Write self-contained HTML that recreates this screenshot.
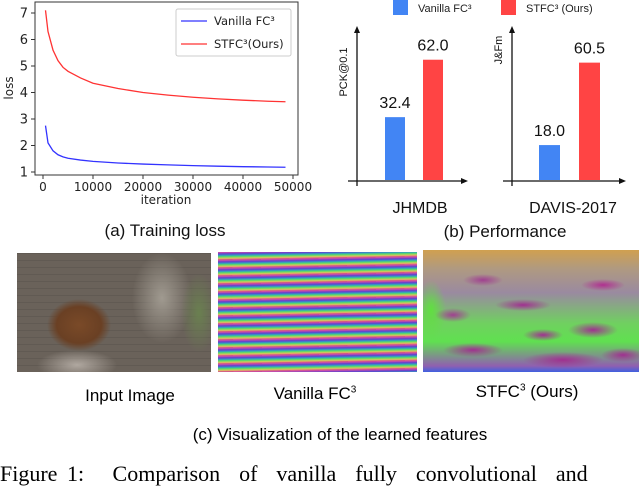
<!DOCTYPE html>
<html><head><meta charset="utf-8"><style>
body{margin:0;background:#fff;width:640px;height:473px;overflow:hidden;position:relative;font-family:"Liberation Sans",sans-serif}
.abs{position:absolute}
</style></head><body>
<svg class="abs" style="left:0;top:0" width="640" height="473">
<g id="loss"></g>
<g id="bars"></g>
</svg>

<div class="abs" style="left:17px;top:253px;width:194px;height:119px;background:
radial-gradient(ellipse 32px 26px at 62px 72px,#7a4a28 0,#6a4024 70%,transparent 100%),
radial-gradient(ellipse 18px 40px at 182px 60px,#6a8050 0,transparent 100%),
radial-gradient(ellipse 30px 45px at 145px 45px,#a09a90 0,transparent 100%),
radial-gradient(ellipse 40px 15px at 60px 112px,#b0a8a0 0,transparent 100%),
repeating-linear-gradient(0deg,#6a625a 0,#6a625a 6px,#58524c 7px),
linear-gradient(180deg,#6e665e 0,#5e5850 50%,#7a6c5c 80%,#a09080 100%);"></div>
<div class="abs" style="left:218px;top:252px;width:199px;height:120px;background:repeating-linear-gradient(179deg,#e050a0 0,#6040d0 2px,#30a0c0 3.5px,#60e060 5px,#e0c060 6.5px,#d04090 8px)"></div>
<div class="abs" style="left:423px;top:250px;width:216px;height:122px;background:
radial-gradient(ellipse 28px 6px at 100px 55px,#a03090 0,transparent 100%),
radial-gradient(ellipse 30px 7px at 50px 100px,#a03090 0,transparent 100%),
radial-gradient(ellipse 25px 8px at 170px 80px,#a03090 0,transparent 100%),
radial-gradient(ellipse 40px 8px at 140px 110px,#a03090 0,transparent 100%),
radial-gradient(ellipse 20px 6px at 60px 30px,#a04090 0,transparent 100%),
radial-gradient(ellipse 22px 6px at 180px 35px,#b03090 0,transparent 100%),
radial-gradient(ellipse 18px 7px at 30px 65px,#a04090 0,transparent 100%),
radial-gradient(ellipse 20px 6px at 120px 85px,#a03090 0,transparent 100%),
radial-gradient(ellipse 22px 7px at 200px 105px,#a03090 0,transparent 100%),
radial-gradient(ellipse 15px 30px at 8px 60px,#60e040 0,transparent 100%),
linear-gradient(180deg,#d0a050 0,#b09a80 15%,#9a8aa0 35%,#70d060 60%,#60e050 75%,#9060b0 95%,#4060e0 100%);"></div>

<div class="abs" style="left:40px;top:386px;width:180px;text-align:center;font-size:17px">Input Image</div>
<div class="abs" style="left:225px;top:384px;width:180px;text-align:center;font-size:17px">Vanilla FC<sup style="font-size:10px">3</sup></div>
<div class="abs" style="left:437px;top:382px;width:180px;text-align:center;font-size:17px">STFC<sup style="font-size:10px">3</sup> (Ours)</div>
<div class="abs" style="left:140px;top:425px;width:400px;text-align:center;font-size:17px">(c) Visualization of the learned features</div>
<div class="abs" style="left:0;top:461px;font-family:'Liberation Serif',serif;font-size:22px;white-space:nowrap;word-spacing:4px">Figure 1:&nbsp;&nbsp;&nbsp;Comparison&nbsp; of&nbsp; vanilla&nbsp; fully&nbsp; convolutional&nbsp; and</div>

<script>
const iters=[500,1000,2000,3000,4000,5000,7500,10000,15000,20000,25000,30000,35000,40000,45000,48500];
const redLoss=[7.1,6.3,5.6,5.2,4.95,4.8,4.55,4.35,4.15,4.0,3.9,3.82,3.76,3.71,3.67,3.65];
const blueLoss=[2.75,2.1,1.8,1.65,1.57,1.52,1.45,1.4,1.34,1.3,1.27,1.24,1.22,1.2,1.19,1.18];
const xTicks=[0,10000,20000,30000,40000,50000];
const yTicks=[1,2,3,4,5,6,7];
const datasets=["JHMDB","DAVIS-2017"];
const vanillaScores=[32.4,18.0];
const stfcScores=[62.0,60.5];
const ns="http://www.w3.org/2000/svg";
function mk(t,a,p,txt){const e=document.createElementNS(ns,t);for(const k in a)e.setAttribute(k,a[k]);if(txt!==undefined)e.textContent=txt;p.appendChild(e);return e;}
const X=v=>43+v*250/50000, Y=v=>172-(v-1)*26.5;
const L=document.getElementById('loss');
let f=mk('rect',{x:35,y:2,width:263,height:173,fill:'none',stroke:'#333','stroke-width':1},L);

xTicks.forEach(t=>{mk('line',{x1:X(t),x2:X(t),y1:175,y2:179,stroke:'#333'},L);
 const e=mk('text',{x:X(t),y:191,'font-size':12,'text-anchor':'middle','font-family':'DejaVu Sans,sans-serif',fill:'#222'},L,t);
 });
yTicks.forEach(t=>{mk('line',{x1:31,x2:35,y1:Y(t),y2:Y(t),stroke:'#333'},L);
 const e=mk('text',{x:28,y:Y(t)+4.5,'font-size':13,'text-anchor':'end','font-family':'DejaVu Sans,sans-serif',fill:'#222'},L,t);
 });
let e=mk('text',{x:13,y:88,'font-size':12,'text-anchor':'middle','font-family':'DejaVu Sans,sans-serif',transform:'rotate(-90 13 88)',fill:'#222'},L,'loss');

e=mk('text',{x:166,y:204,'font-size':12,'text-anchor':'middle','font-family':'DejaVu Sans,sans-serif',fill:'#222'},L,'iteration');

[[redLoss,'#f33','stfc-loss-line'],[blueLoss,'#33f','vanilla-loss-line']].forEach(([d,c,n])=>{
 const p=mk('polyline',{points:iters.map((it,i)=>X(it)+','+Y(d[i])).join(' '),fill:'none',stroke:c,'stroke-width':1.3},L);
 });
e=mk('rect',{x:176,y:9,width:115,height:47,fill:'#fff',stroke:'#ccc',rx:2},L);

mk('line',{x1:181,x2:207,y1:21,y2:21,stroke:'#33f','stroke-width':1.3},L);
mk('line',{x1:181,x2:207,y1:44,y2:44,stroke:'#f33','stroke-width':1.3},L);
e=mk('text',{x:214,y:25,'font-size':11.5,'font-family':'DejaVu Sans,sans-serif',fill:'#222'},L,'Vanilla FC³');

e=mk('text',{x:214,y:48,'font-size':11.5,'font-family':'DejaVu Sans,sans-serif',fill:'#222'},L,'STFC³(Ours)');

e=mk('text',{x:165,y:236,'font-size':17,'text-anchor':'middle',fill:'#111'},L,'(a) Training loss');


const B=document.getElementById('bars');
mk('rect',{x:393,y:0,width:15,height:15,fill:'#4285f4'},B);
mk('rect',{x:501,y:0,width:15,height:15,fill:'#f44'},B);
e=mk('text',{x:418,y:12,'font-size':11,fill:'#222'},B,'Vanilla FC³');
e=mk('text',{x:526,y:12,'font-size':11,fill:'#222'},B,'STFC³ (Ours)');
const charts=[{ax:357,x0:348,x1:467,bx:[385,423],w:20,yl:'PCK@0.1',lc:420},{ax:512,x0:503,x1:625,bx:[539,579],w:21,yl:'J&Fm',lc:573}];
const base=180, k=1.94;
charts.forEach((c,i)=>{
 mk('line',{x1:c.ax,x2:c.ax,y1:186,y2:32,stroke:'#111','stroke-width':1.3},B);
 mk('polygon',{points:`${c.ax-3},33 ${c.ax+3},33 ${c.ax},26`,fill:'#111'},B);
 mk('line',{x1:c.x0,x2:c.x1-4,y1:181,y2:181,stroke:'#111','stroke-width':1.3},B);
 mk('polygon',{points:`${c.x1-6},178 ${c.x1-6},184 ${c.x1+1},181`,fill:'#111'},B);
 [[vanillaScores[i],'#4285f4',0],[stfcScores[i],'#f44',1]].forEach(([v,col,j])=>{
  const h=v*k;
  const r=mk('rect',{x:c.bx[j],y:base-h,width:c.w,height:h,fill:col},B);
  
  const t=mk('text',{x:c.bx[j]+c.w/2,y:base-h-9,'font-size':16,'text-anchor':'middle',fill:'#111'},B,v.toFixed(1));
  
 });
 const yt=mk('text',{x:c.ax-10,y:i?50:72,'font-size':11,'text-anchor':'middle',transform:`rotate(-90 ${c.ax-10} ${i?50:72})`,fill:'#111'},B,c.yl);
 
 const xl=mk('text',{x:c.lc,y:213,'font-size':16,'text-anchor':'middle',fill:'#111'},B,datasets[i]);
 
});
e=mk('text',{x:505,y:237,'font-size':17,'text-anchor':'middle',fill:'#111'},B,'(b) Performance');

</script>
</body></html>
